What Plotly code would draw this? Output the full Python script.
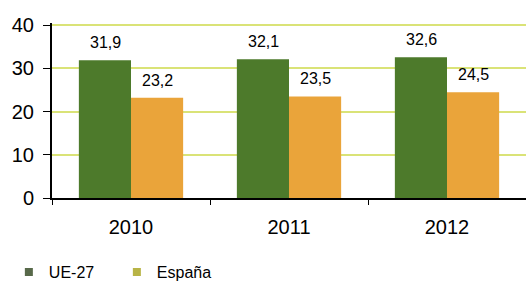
import plotly.graph_objects as go

years = ["2010", "2011", "2012"]
ue27 = [31.9, 32.1, 32.6]
espana = [23.2, 23.5, 24.5]
series_names = ["UE-27", "España"]
y_ticks = [0, 10, 20, 30, 40]

green = "#4d7a2b"
orange = "#eaa43a"
font = "Liberation Sans, Arial, sans-serif"

fig = go.Figure()
fig.add_trace(go.Bar(x=years, y=ue27, name=series_names[0], marker=dict(color=green, line=dict(width=0)),
                     showlegend=False))
fig.add_trace(go.Bar(x=years, y=espana, name=series_names[1], marker=dict(color=orange, line=dict(width=0)),
                     showlegend=False))
# legend entries
fig.add_trace(go.Scatter(x=[years[0]], y=[None], mode="markers", name=series_names[0],
                         marker=dict(symbol="square", size=8, color="#58694a")))
fig.add_trace(go.Scatter(x=[years[0]], y=[None], mode="markers", name=series_names[1],
                         marker=dict(symbol="square", size=8, color="#b8b446")))

# value labels (x given as category index)
for vals, shift in ((ue27, -26), (espana, 26)):
    for i, v in enumerate(vals):
        fig.add_annotation(x=i, y=v, xshift=shift, yshift=7, yanchor="bottom",
                           text=f"{v:.1f}".replace(".", ","), showarrow=False,
                           font=dict(size=16, color="black", family=font))

fig.update_layout(
    width=526, height=282,
    margin=dict(l=52, r=0, t=23, b=84),
    paper_bgcolor="white", plot_bgcolor="white",
    barmode="group", bargap=0.34, bargroupgap=0,
    font=dict(family=font, size=20, color="black"),
    legend=dict(orientation="h", x=-0.091, xanchor="left",
                y=0.035, yref="container", yanchor="middle",
                font=dict(size=16, family=font), entrywidth=63, entrywidthmode="pixels",
                itemwidth=30),
)
fig.update_xaxes(type="category", categoryorder="array", categoryarray=years,
                 showline=True, linecolor="black", linewidth=2,
                 ticks="outside", tickson="boundaries", ticklen=5, tickcolor="black",
                 showgrid=False, ticklabelstandoff=10, tickfont=dict(size=20), automargin=False)
fig.update_yaxes(range=[0, 40.5], tickvals=y_ticks, showline=True, linecolor="black", linewidth=2,
                 ticks="outside", ticklen=7, tickcolor="black",
                 showgrid=True, gridcolor="#dae377", gridwidth=2, zeroline=False,
                 tickfont=dict(size=20), ticklabelstandoff=5, automargin=False)

fig.write_html("out.html", config={"displayModeBar": False},
               post_script="document.body.style.margin='0';")
